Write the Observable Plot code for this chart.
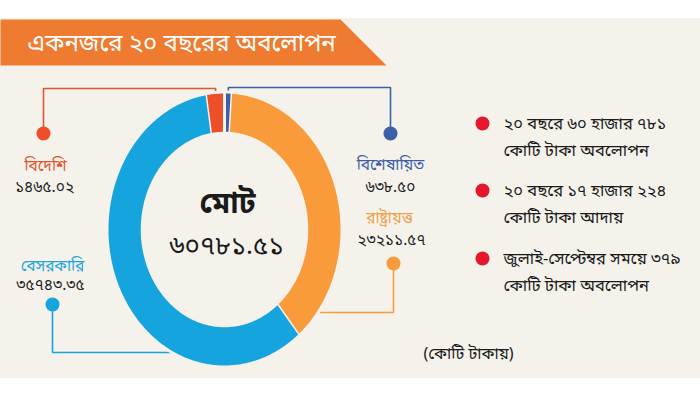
<!DOCTYPE html>
<html>
<head>
<meta charset="utf-8">
<script src="https://cdn.jsdelivr.net/npm/d3@7"></script>
<script src="https://cdn.jsdelivr.net/npm/@observablehq/plot@0.6"></script>
<style>
  html, body { margin: 0; padding: 0; background: #ffffff; }
  svg text { font-family: "Noto Sans Bengali", "Noto Sans", "DejaVu Sans", sans-serif; }
</style>
</head>
<body>
<div id="chart"></div>
<script>
// ---- data ----
const titleText = "একনজরে ২০ বছরের অবলোপন";
const categories = ["বিশেষায়িত", "রাষ্ট্রায়ত্ত", "বেসরকারি", "বিদেশি"];
const values = [638.50, 23211.57, 35743.35, 1465.02];
const valueLabels = ["৬৩৮.৫০", "২৩২১১.৫৭", "৩৫৭৪৩.৩৫", "১৪৬৫.০২"];
const sliceColors = ["#3a60ab", "#f99b3a", "#15a4de", "#ee4f28"];
const labelColors = ["#3d5ea8", "#f0a04a", "#22a6d8", "#e2562f"];
const totalName = "মোট";
const totalLabel = "৬০৭৮১.৫১";
const notes = [
  ["২০ বছরে ৬০ হাজার ৭৮১", "কোটি টাকা অবলোপন"],
  ["২০ বছরে ১৭ হাজার ২২৪", "কোটি টাকা আদায়"],
  ["জুলাই-সেপ্টেম্বর সময়ে ৩৭৯", "কোটি টাকা অবলোপন"]
];
const unitText = "(কোটি টাকায়)";

// ---- layout ----
const W = 700, H = 400;
const bg = "#f4f2eb";
const cx = 224, cy = 229, rx = 117.5, ry = 137.5, innerRatio = 0.70;

const pt = (a, r) => [cx + r * rx * Math.sin(a), cy - r * ry * Math.cos(a)];
const edgeX = (y, side) => cx + side * rx * Math.sqrt(Math.max(0, 1 - ((y - cy) / ry) ** 2));

const pie = d3.pie().sort(null).value(d => d.value).startAngle(0).endAngle(2 * Math.PI);
const slices = pie(categories.map((c, i) => ({name: c, value: values[i], color: sliceColors[i]})));

const arcPts = [];
for (const s of slices) {
  const n = Math.max(4, Math.ceil((s.endAngle - s.startAngle) / 0.01));
  for (let k = 0; k <= n; k++) {
    const a = s.startAngle + (s.endAngle - s.startAngle) * k / n;
    const [x, y] = pt(a, 1);
    arcPts.push({name: s.data.name, color: s.data.color, x, y});
  }
  for (let k = n; k >= 0; k--) {
    const a = s.startAngle + (s.endAngle - s.startAngle) * k / n;
    const [x, y] = pt(a, innerRatio);
    arcPts.push({name: s.data.name, color: s.data.color, x, y});
  }
}
const mid = s => (s.startAngle + s.endAngle) / 2;
const [sSpec, sState, sPriv, sForeign] = slices;
const fTop = pt(mid(sForeign) - 2 * Math.PI, 1);
const sTop = pt(mid(sSpec), 1);

const leaders = [
  {name: "f", color: labelColors[3], pts: [[fTop[0], fTop[1]], [fTop[0], 88], [43, 88], [43, 133]]},
  {name: "s", color: sliceColors[0], pts: [[sTop[0], sTop[1]], [sTop[0], 87], [390, 87], [390, 133]]},
  {name: "r", color: sliceColors[1], pts: [[393, 263], [393, 312], [edgeX(312, 1) - 2, 312]]},
  {name: "p", color: sliceColors[2], pts: [[52, 304], [52, 352], [edgeX(352, -1) + 2, 352]]}
];
const leaderPts = leaders.flatMap(l => l.pts.map(([x, y]) => ({name: l.name, color: l.color, x, y})));
const dots = [
  {x: 43, y: 133, color: "#ee4f28"},
  {x: 390, y: 133, color: sliceColors[0]},
  {x: 393, y: 263, color: sliceColors[1]},
  {x: 52, y: 304, color: sliceColors[2]}
];
const catLabels = [
  {x: 45, y: 166, t: categories[3], c: labelColors[3]},
  {x: 44, y: 187, t: valueLabels[3], c: "#222"},
  {x: 390, y: 165, t: categories[0], c: labelColors[0]},
  {x: 390, y: 187, t: valueLabels[0], c: "#222"},
  {x: 389, y: 218, t: categories[1], c: labelColors[1]},
  {x: 391, y: 240, t: valueLabels[1], c: "#222"},
  {x: 52, y: 266, t: categories[2], c: labelColors[2]},
  {x: 50, y: 285, t: valueLabels[2], c: "#222"}
];
const noteRows = notes.flatMap((lines, i) => lines.map((t, j) => ({t, x: 503, y: [123, 190, 258][i] + j * 27})));
const noteDots = notes.map((_, i) => ({x: 482, y: [123, 190, 258][i]}));
const band = [[0, 19], [340, 19], [386, 65], [0, 65]].map(([x, y]) => ({x, y}));

const chart = Plot.plot({
  width: W, height: H,
  margin: 0,
  x: {domain: [0, W], range: [0, W], axis: null},
  y: {domain: [0, H], range: [0, H], axis: null},
  color: {type: "identity"},
  style: {background: "transparent"},
  marks: [
    Plot.rect([0], {x1: 0, x2: W, y1: 18, y2: 378, fill: bg}),
    Plot.line(band, {x: "x", y: "y", fill: "#ee7b30", stroke: "none", curve: "linear"}),
    Plot.text([titleText], {x: 27, y: 43, text: d => d, fill: "white", fontSize: 24, textAnchor: "start"}),
    Plot.line(leaderPts, {x: "x", y: "y", z: "name", stroke: "color", strokeWidth: 1.6, curve: "linear", strokeLinejoin: "miter"}),
    Plot.line(arcPts, {x: "x", y: "y", z: "name", fill: "color", stroke: bg, strokeWidth: 3, curve: "linear"}),
    Plot.dot(dots, {x: "x", y: "y", r: 7, fill: "color", stroke: "none"}),
    Plot.text(catLabels, {x: "x", y: "y", text: "t", fill: "c", fontSize: 15.5}),
    Plot.text([totalName], {x: 227, y: 203, text: d => d, fill: "#1a1a1a", fontSize: 30, fontWeight: "bold"}),
    Plot.text([totalLabel], {x: 226, y: 245, text: d => d, fill: "#1a1a1a", fontSize: 26}),
    Plot.dot(noteDots, {x: "x", y: "y", r: 7, fill: "#e3182d", stroke: "none"}),
    Plot.text(noteRows, {x: "x", y: "y", text: "t", fill: "#1a1a1a", fontSize: 16.5, textAnchor: "start"}),
    Plot.text([unitText], {x: 468, y: 353, text: d => d, fill: "#1a1a1a", fontSize: 16})
  ]
});
document.getElementById("chart").appendChild(chart);
</script>
</body>
</html>
